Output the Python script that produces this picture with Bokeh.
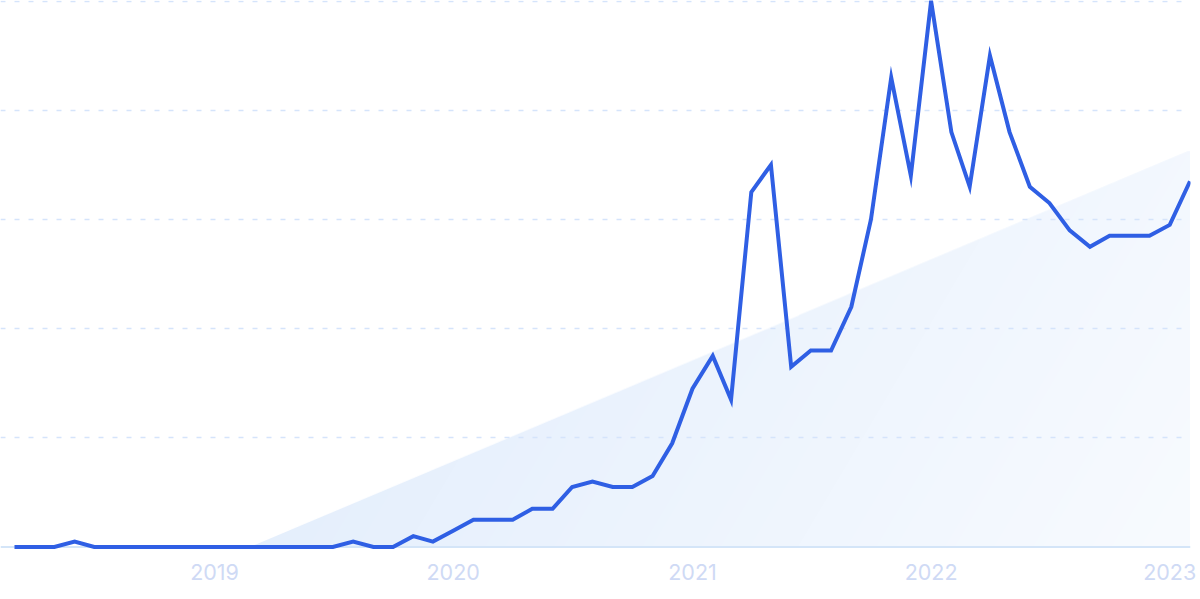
import numpy as np
import pandas as pd
from bokeh.plotting import figure
from bokeh.models import Range1d, FixedTicker, DatetimeTickFormatter, Span
from bokeh.embed import file_html
from bokeh.resources import INLINE

# ---- data ----
start_month = "2018-03-01"
end_month = "2023-02-01"
values = [0, 0, 0, 1, 0, 0, 0, 0, 0, 0,
          0, 0, 0, 0, 0, 0, 0, 1, 0, 0,
          2, 1, 3, 5, 5, 5, 7, 7, 11, 12,
          11, 11, 13, 19, 29, 35, 27, 65, 70, 33,
          36, 36, 44, 60, 86, 68, 100, 76, 66, 90,
          76, 66, 63, 58, 55, 57, 57, 57, 59, 67]
year_ticks = ["2019-01-01", "2020-01-01", "2021-01-01", "2022-01-01", "2023-01-01"]
trend_dates = ["2019-02-24", "2023-02-01"]
trend_values = [0, 72.5]
grid_values = [20, 40, 60, 80, 100]

dates = pd.date_range(start_month, end_month, freq="MS")

def ms(d):
    return pd.Timestamp(d).value / 1e6

t0, t1 = ms(dates[0]), ms(dates[-1])
mpp = (t1 - t0) / 1176.0  # ms per pixel
x_start = t0 - 14 * mpp
x_end = t1 + 0.5 * mpp

W, H = 1200, 599
BOTTOM = 44
Y0, Y1 = -1.55, 100.1
p = figure(width=W, height=H, x_axis_type="datetime", y_axis_location=None,
           x_range=Range1d(x_start, x_end), y_range=Range1d(Y0, Y1),
           output_backend="svg", toolbar_location=None,
           min_border_left=0, min_border_right=10, min_border_top=0, min_border_bottom=BOTTOM,
           outline_line_color=None, background_fill_color="white", border_fill_color="white")

# ---- gradient band under trend ----
frame_h = H - BOTTOM
py = frame_h / (Y1 - Y0)
tx0, tx1 = ms(trend_dates[0]), ms(trend_dates[1])
nx = int(round((tx1 - tx0) / mpp))
ny = int(round((trend_values[1] - trend_values[0]) * py))
ii = (np.arange(nx) + 0.5) / nx
jj = np.arange(ny)
U, J = np.meshgrid(ii, jj)
edge = U * ny
alpha = np.clip(edge - J, 0, 1)
V = (J + 0.5) / ny
t = np.clip(0.8 * U + 0.2 * (1 - V), 0, 1)
c0 = np.array([224, 236, 252], dtype=float)
c1 = np.array([248, 251, 255], dtype=float)
img = np.empty((ny, nx), dtype=np.uint32)
view = img.view(dtype=np.uint8).reshape((ny, nx, 4))
for k in range(3):
    view[:, :, k] = (c0[k] + (c1[k] - c0[k]) * t).astype(np.uint8)
view[:, :, 3] = (alpha * 255).astype(np.uint8)
band = p.image_rgba(image=[img], x=tx0, y=trend_values[0], dw=tx1 - tx0,
                    dh=trend_values[1] - trend_values[0])
band.level = "image"

# ---- grid ----
p.xgrid.visible = False
p.ygrid.ticker = FixedTicker(ticks=grid_values)
p.ygrid.grid_line_color = "#d5e4fb"
p.ygrid.grid_line_width = 1.4
p.ygrid.grid_line_dash = "5 9"

base = Span(location=0, dimension="width", line_color="#d4e5f8", line_width=2, level="underlay")
p.add_layout(base)

# ---- line ----
p.line(x=dates, y=values, line_color="#2f5fe4", line_width=4, line_join="miter")

# ---- x axis ----
ax = p.xaxis[0]
ax.ticker = FixedTicker(ticks=[ms(d) for d in year_ticks])
ax.formatter = DatetimeTickFormatter(years="%Y", months="%Y", days="%Y", hours="%Y")
ax.axis_line_color = None
ax.major_tick_line_color = None
ax.minor_tick_line_color = None
ax.major_tick_out = 0
ax.major_tick_in = 0
ax.major_label_standoff = 8
ax.major_label_text_color = "#cfdaf5"
ax.major_label_text_font = "Inter"
ax.major_label_text_font_size = "21.5px"

open("out.html", "w").write(file_html(p, INLINE))
